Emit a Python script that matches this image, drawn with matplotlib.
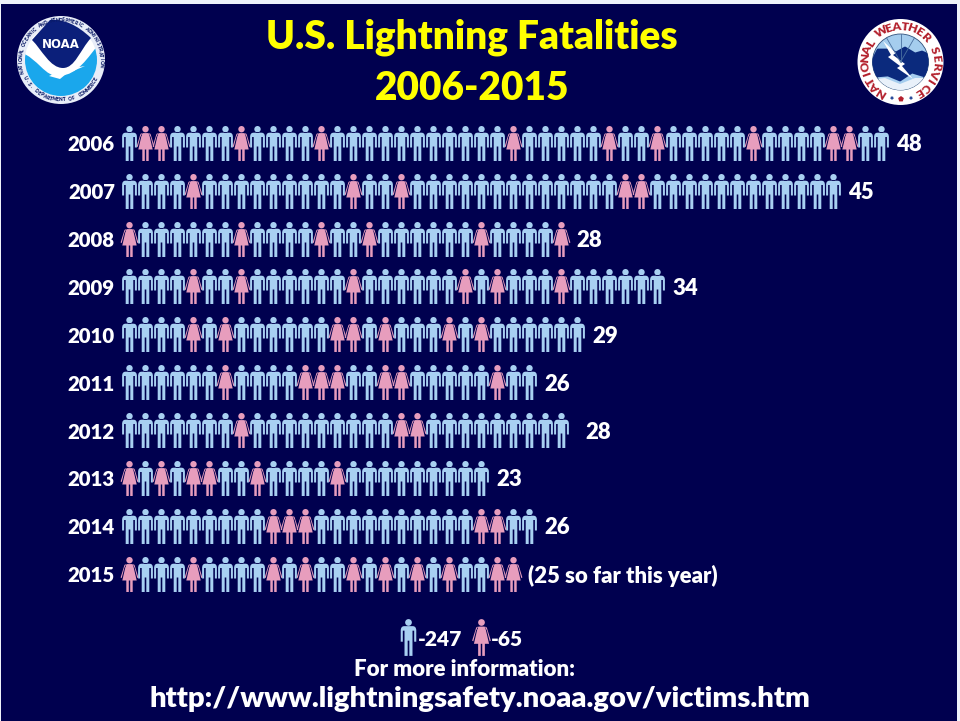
import matplotlib
matplotlib.use('agg')
import matplotlib.pyplot as plt
import numpy as np
from matplotlib.path import Path
from matplotlib.patches import Circle, PathPatch, Rectangle, RegularPolygon

plt.rcParams['font.family'] = 'Lato'

# data
years = [2006, 2007, 2008, 2009, 2010, 2011, 2012, 2013, 2014, 2015]
counts = [48, 45, 28, 34, 29, 26, 28, 23, 26, 25]
count_labels = ['48', '45', '28', '34', '29', '26', '28', '23', '26', '(25 so far this year)']
female_2006 = [1, 2, 7, 12, 24, 30, 33, 39, 44, 45]
female_2007 = [4, 14, 17, 31, 32]
female_2008 = [0, 7, 12, 15, 22, 27]
female_2009 = [4, 7, 14, 21, 23, 27]
female_2010 = [4, 6, 13, 14, 16, 20, 22]
female_2011 = [6, 11, 12, 13, 16, 17, 23]
female_2012 = [7, 17, 18]
female_2013 = [0, 2, 4, 5, 8, 13]
female_2014 = [9, 10, 11, 22, 23]
female_2015 = [0, 4, 9, 11, 14, 16, 18, 20, 23, 24]
females = [female_2006, female_2007, female_2008, female_2009, female_2010,
           female_2011, female_2012, female_2013, female_2014, female_2015]
total_male = 247
total_female = 65

BG = '#00004f'
MALE = '#a8d0f2'
FEMALE = '#e79dbd'
YELLOW = '#ffff00'
NAVY = '#0a1a66'
RED = '#b3202c'
HEAVY = 800


def man_path():
    verts = [(-4, 10.8), (4, 10.8), (7.4, 10.8), (7.4, 6.5), (7.4, -4), (5.4, -4), (5.4, 6.5), (3.8, 6.5),
             (3.8, -17.5), (0.8, -17.5), (0.8, -3), (-0.8, -3), (-0.8, -17.5), (-3.8, -17.5), (-3.8, 6.5),
             (-5.4, 6.5), (-5.4, -4), (-7.4, -4), (-7.4, 6.5), (-7.4, 10.8), (-4, 10.8), (-4, 10.8)]
    codes = [Path.MOVETO, Path.LINETO, Path.CURVE3, Path.CURVE3] + [Path.LINETO] * 15 + \
            [Path.CURVE3, Path.CURVE3, Path.CLOSEPOLY]
    body = Path(verts, codes)
    head = Path.circle((0, 14.3), 3.2)
    return Path.make_compound_path(body, head)


def woman_path():
    dress = Path([(-3, 10.4), (3, 10.4), (4.2, 7), (7.2, -6), (3.2, -6), (3.2, -17.5), (0.7, -17.5),
                  (0.7, -6), (-0.7, -6), (-0.7, -17.5), (-3.2, -17.5), (-3.2, -6), (-7.2, -6), (-4.2, 7),
                  (-3, 10.4)], closed=True)
    arm_r = Path([(3.2, 10.4), (5.0, 9.6), (8.9, -3), (7.8, -3.6), (5.2, 6.5), (3.2, 10.4)], closed=True)
    arm_l = Path([(-3.2, 10.4), (-5.0, 9.6), (-8.9, -3), (-7.8, -3.6), (-5.2, 6.5), (-3.2, 10.4)], closed=True)
    head = Path.circle((0, 14.3), 3.2)
    return Path.make_compound_path(dress, arm_r, arm_l, head)


def arc_text(ax, s, cx, cy, r, a0, a1, color, size, bottom=False):
    angles = np.linspace(a0, a1, len(s))
    for ch, a in zip(s, angles):
        t = np.radians(a)
        rot = 180 - a if bottom else -a
        ax.text(cx + r*np.sin(t), cy - r*np.cos(t), ch, color=color, fontsize=size, weight=HEAVY,
                rotation=rot, ha='center', va='center', rotation_mode='anchor')


def draw_noaa(ax):
    cx, cy = 61, 60
    ax.add_patch(Circle((cx, cy), 44, fc='#e8edf8', ec='none'))
    ax.add_patch(Circle((cx, cy), 36, fc='white', ec='none'))
    clip = Circle((cx, cy), 36, transform=ax.transData)
    blue = Path([(20, 52), (38, 58), (45, 78), (60, 76), (78, 74), (86, 60), (102, 40),
                 (110, 110), (10, 110), (20, 52)],
                [Path.MOVETO, Path.CURVE4, Path.CURVE4, Path.CURVE4, Path.CURVE4, Path.CURVE4, Path.CURVE4,
                 Path.LINETO, Path.LINETO, Path.CLOSEPOLY])
    p = PathPatch(blue, fc='#1aa7ec', ec='none')
    ax.add_patch(p)
    p.set_clip_path(clip)
    top = Path([(32, 40), (42, 50), (50, 68), (63, 68), (75, 68), (80, 50), (91, 38), (70, 18), (50, 20), (32, 40)],
               [Path.MOVETO, Path.CURVE4, Path.CURVE4, Path.CURVE4, Path.CURVE4, Path.CURVE4, Path.CURVE4,
                Path.CURVE3, Path.CURVE3, Path.CLOSEPOLY])
    ax.add_patch(PathPatch(top, fc='#0b1f7a', ec='none'))
    bird = Path([(49, 76), (62, 70), (85, 66), (66, 74), (60, 79), (49, 76)], closed=True)
    ax.add_patch(PathPatch(bird, fc='white', ec='none'))
    ax.text(cx, 44.5, 'NOAA', color='white', fontsize=8.5, ha='center', va='center',
            family='DejaVu Sans', weight='bold')
    arc_text(ax, 'NATIONAL OCEANIC AND ATMOSPHERIC ADMINISTRATION', cx, cy, 40, -107, 97, NAVY, 3.4)
    arc_text(ax, 'U.S. DEPARTMENT OF COMMERCE', cx, cy, 40, 243, 118, NAVY, 3.4, bottom=True)


def draw_nws(ax):
    cx, cy = 900.5, 62
    ax.add_patch(Circle((cx, cy), 43, fc='white', ec='none'))
    ax.add_patch(Circle((cx, cy), 28, fc='#a5cdee', ec='#30507a', lw=0.6))
    clip = Circle((cx, cy), 28, transform=ax.transData)
    for a in [-30, 0, 30]:
        l, = ax.plot([cx, cx + 28*np.sin(np.radians(a))], [cy, cy - 28*np.cos(np.radians(a))],
                     color='#4a70a0', lw=0.6)
        l.set_clip_path(clip)
    cloud = Path([(872, 62), (878, 50), (890, 50), (896, 53), (905, 48), (915, 54), (922, 52), (931, 56),
                  (930, 68), (925, 76), (912, 72), (900, 80), (888, 75), (876, 76), (872, 62)], closed=True)
    p = PathPatch(cloud, fc='#0b2a7d', ec='#0b2a7d', lw=2, joinstyle='round')
    ax.add_patch(p)
    p.set_clip_path(clip)
    low = Path([(868, 80), (885, 78), (900, 84), (915, 78), (935, 78), (935, 100), (868, 100), (868, 80)], closed=True)
    p = PathPatch(low, fc='#e9f1fa', ec='none')
    ax.add_patch(p)
    p.set_clip_path(clip)
    bolt = Path([(883, 41), (896, 53), (893, 55), (905, 64), (902, 66), (913, 79), (897, 68), (900, 66),
                 (888, 57), (891, 55), (883, 41)], closed=True)
    ax.add_patch(PathPatch(bolt, fc='white', ec='none'))
    arc_text(ax, 'NATIONAL WEATHER SERVICE', cx, cy, 35.5, -148, 148, RED, 8.8)
    ax.add_patch(RegularPolygon((892, 98), 5, radius=1.8, fc='#2a4c9a', ec='none'))
    ax.add_patch(RegularPolygon((901, 99), 5, radius=3, fc=RED, ec='none', orientation=np.pi))
    ax.add_patch(RegularPolygon((911, 98), 5, radius=1.8, fc='#2a4c9a', ec='none'))


X0, PITCH = 129.3, 16.0
Y0, ROW = 142.7, 47.9
W, H = 960, 721

fig = plt.figure(figsize=(9.6, 7.21), dpi=100, facecolor='#eef2fa')

# chart axes: x is person number, y is row number
ax = fig.add_axes([0, 0, 1, 1])
ax.set_xlim((0 - X0)/PITCH, (W - X0)/PITCH)
ax.set_ylim((H - Y0)/ROW, (0 - Y0)/ROW)
ax.axis('off')

# pixel overlay for the decorations, below the marks
px = fig.add_axes([0, 0, 1, 1], zorder=-1)
px.set_xlim(0, W)
px.set_ylim(H, 0)
px.axis('off')
px.add_patch(Rectangle((1, 4), 956, H, fc=BG, ec='none'))

man = man_path()
woman = woman_path()
rows = np.arange(len(years))
for r, n, fem in zip(rows, counts, females):
    idx = np.arange(n)
    is_f = np.isin(idx, fem)
    ax.plot(idx[~is_f], np.full((~is_f).sum(), r), ls='none', marker=man, ms=25.2, mew=0, color=MALE, snap=False)
    ax.plot(idx[is_f], np.full(is_f.sum(), r), ls='none', marker=woman, ms=25.2, mew=0, color=FEMALE, snap=False)
    ax.text(-0.9, r + 0.04, str(years[r]), color='white', fontsize=14.7, weight=HEAVY, ha='right', va='center')
    gap = 1.5 if years[r] == 2012 else 0.95
    ax.text(n - 1 + gap, r + 0.04, count_labels[r], color='white', fontsize=15.9, weight=HEAVY, ha='left', va='center')

# title, logos and footer
px.text(472, 37, 'U.S. Lightning Fatalities', color=YELLOW, fontsize=27.9, weight=HEAVY, ha='center', va='center')
px.text(472, 88, '2006-2015', color=YELLOW, fontsize=27.9, weight=HEAVY, ha='center', va='center')
draw_noaa(px)
draw_nws(px)

key = fig.add_axes([0, 0, 1, 1], zorder=2)
key.set_xlim(0, W)
key.set_ylim(H, 0)
key.axis('off')
key.plot([408], [636.5], ls='none', marker=man, ms=26.5, mew=0, color=MALE, snap=False)
key.plot([481], [636.5], ls='none', marker=woman, ms=26.5, mew=0, color=FEMALE, snap=False)
key.text(418, 639, '-%d' % total_male, color='white', fontsize=15, weight=HEAVY, ha='left', va='center')
key.text(491, 639, '-%d' % total_female, color='white', fontsize=15, weight=HEAVY, ha='left', va='center')
key.text(465, 669, 'For more information:', color='white', fontsize=16, weight=HEAVY, ha='center', va='center')
key.text(479.5, 698.5, 'http://www.lightningsafety.noaa.gov/victims.htm', color='white',
         fontsize=21.1, weight=HEAVY, ha='center', va='center')

fig.savefig('out.png', dpi=100, facecolor=fig.get_facecolor())
plt.close(fig)
